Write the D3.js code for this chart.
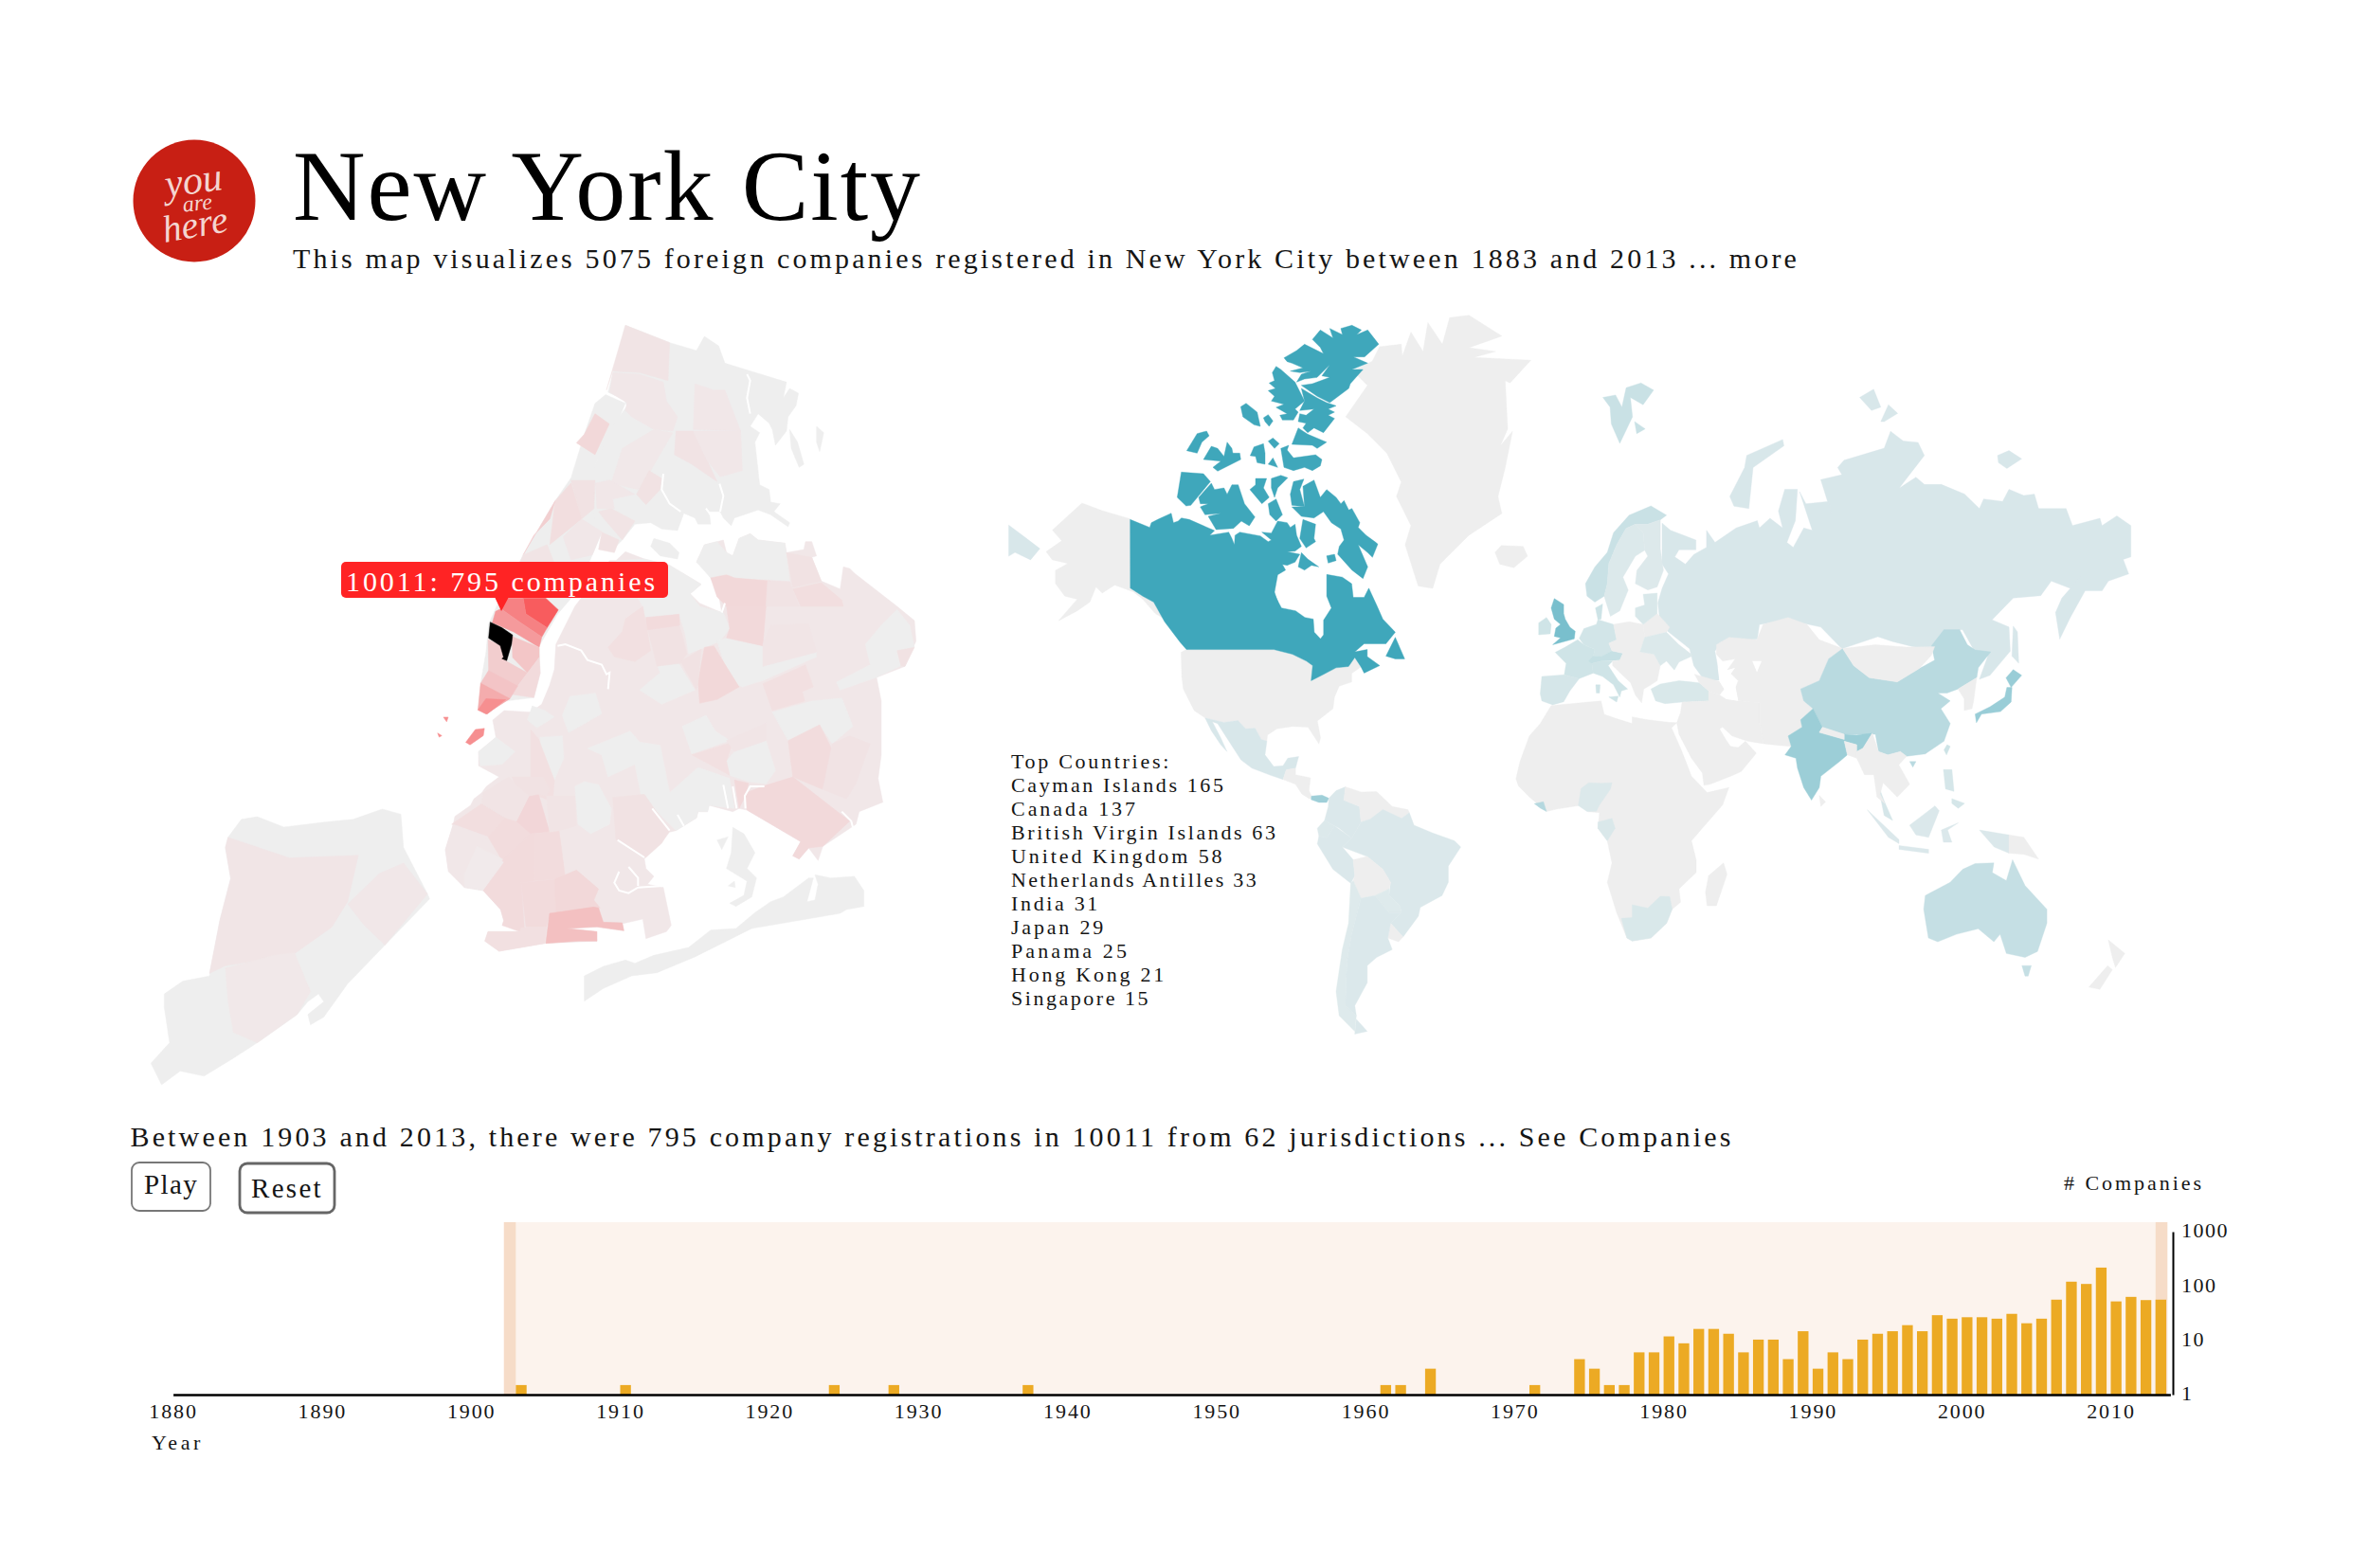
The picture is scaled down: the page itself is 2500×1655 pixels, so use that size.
<!DOCTYPE html>
<html><head><meta charset="utf-8"><style>html,body{margin:0;background:#fff}svg{display:block}text{font-family:"Liberation Serif",serif}</style>
<script src="https://cdn.jsdelivr.net/npm/d3@7"></script></head><body><script>
// ---------- timeline data ----------
const barYears=[1903,1910,1924,1928,1937,1961,1962,1964,1971,1974,1975,1976,1977,1978,1979,1980,1981,1982,1983,1984,1985,1986,1987,1988,1989,1990,1991,1992,1993,1994,1995,1996,1997,1998,1999,2000,2001,2002,2003,2004,2005,2006,2007,2008,2009,2010,2011,2012,2013];
const barValues=[1.5,1.5,1.5,1.5,1.5,1.5,1.5,3,1.5,4.5,3,1.5,1.5,6,6,11.8,8.8,16.2,16.2,13.2,6,10.3,10.3,4.5,14.7,3,6,4.5,10.3,13.2,14.7,19,14.7,29,25,26.6,26.6,25,30.7,20.6,25,56,120,109,218,52,63,55,56];
const xTicks=[1880,1890,1900,1910,1920,1930,1940,1950,1960,1970,1980,1990,2000,2010];
const yTicks=[1,10,100,1000];
const brushYears=[1902.2,2013.8];
// ---------- top list ----------
const topCountries=["Top Countries:","Cayman Islands 165","Canada 137","British Virgin Islands 63","United Kingdom 58","Netherlands Antilles 33","India 31","Japan 29","Panama 25","Hong Kong 21","Singapore 15"];
const topWidths=[169,226.5,134,281.6,225.5,261,94,100,125,164,147];
// ---------- world: companies per country (absent = none) ----------
const countryCounts={Canada:137,UK:58,India:27,Japan:29,Panama:25,China:10,Australia:5.5,Liberia:12,Russia:1,Mexico:1,Brazil:.6,Colombia:.6,Peru:.6,Ecuador:.5,Argentina:.6,Chile:.3,Paraguay:.3,Ireland:2.5,Germany:2,France:2.5,Spain:1.5,Italy:2.5,Alps:5,Norway:4,Sweden:.5,Finland:.4,Denmark:3,Baltics:.8,Ukraine:.5,Turkey:.8,Nigeria:.5,SouthAfrica:.8,Gabon:.7,Indonesia:.6,Malaysia:1.5,Philippines:1.5,Taiwan:3};
const worldShapes=[
["Chukotka-W",[[-180,68.9],[-175,67.5],[-170,66],[-173,64.5],[-178,65.5],[-180,65]],"Russia"],
["Alaska",[[-141,69.6],[-141,60.3],[-137,59],[-133.5,58],[-130,55],[-133,56],[-137,58.5],[-140,59.7],[-146,60.8],[-150,59.5],[-152,60.5],[-154,58],[-158,56.5],[-164,54.7],[-158,58.5],[-162,59],[-165,61],[-165,63],[-161,64],[-166,64.5],[-168,65.6],[-163,67],[-166,68.3],[-156.5,71.3],[-150,70.5]]],
["USA",[[-124.7,48.4],[-123,49],[-95,49],[-89,48],[-84.5,46.5],[-82.5,45.5],[-83,42],[-79,43.5],[-75,45],[-71,45.3],[-69,47.3],[-67,45.2],[-70,43.7],[-70,41.7],[-74,40.7],[-75.5,38],[-76,35],[-81,31.7],[-80,27],[-80.5,25.2],[-82.5,28],[-84,30],[-89,30.2],[-94,29.5],[-97,27.8],[-97.2,26],[-99,26.5],[-101,29.7],[-104,29.5],[-106.5,31.8],[-111,31.3],[-117,32.5],[-120.5,34.5],[-124,40],[-124.5,43]]],
["Mexico",[[-117,32.5],[-111,31.3],[-106.5,31.8],[-104,29.5],[-101,29.7],[-99,26.5],[-97.2,26],[-97.8,22],[-95,18.5],[-92,18.7],[-90.5,21],[-87,21.5],[-88,18],[-91,17.5],[-92,14.5],[-96,15.8],[-102,18],[-105.5,20.5],[-109,25.5],[-113,31],[-114.7,31.5],[-112,27],[-110,23],[-112,25],[-115,29]],"Mexico"],
["CentralAm",[[-92,14.5],[-91,17.5],[-88,18],[-88,16],[-83.2,15],[-83.7,11],[-82.7,9],[-83.5,8.4],[-86,10],[-88,13]]],
["Panama",[[-82.9,9.3],[-79.5,9.6],[-77.3,8.6],[-78,7.3],[-80.5,7.3],[-83,8.2]],"Panama"],
["Colombia",[[-77.3,8.6],[-75,11],[-72,12.2],[-72.5,8],[-67.5,6],[-67,1],[-70,-4.2],[-74,-1],[-78.7,1.5],[-77.5,6]],"Colombia"],
["Venezuela",[[-72,12.2],[-67,10.6],[-62,10.7],[-57,6],[-52,5],[-51.5,4],[-54,2.2],[-60,1.2],[-64,2],[-67,1],[-67.5,6],[-72.5,8]]],
["Ecuador",[[-78.7,1.5],[-75.5,-0.2],[-78,-4],[-80.5,-3.5],[-81,-1]],"Ecuador"],
["Peru",[[-80.5,-3.5],[-78,-4],[-75.5,-0.2],[-70,-4.2],[-73,-7],[-69.5,-11],[-69,-16],[-70.3,-18.3],[-76,-14],[-81,-6]],"Peru"],
["Brazil",[[-70,-4.2],[-67,1],[-64,2],[-60,5],[-54,2.2],[-51.5,4],[-50,0],[-44,-2.5],[-37,-5],[-35,-7],[-39,-13],[-39,-18],[-41,-22],[-48,-25.5],[-48.6,-28],[-53.5,-33.7],[-57.5,-30],[-54,-27],[-54.5,-25],[-58,-22],[-57.5,-18],[-60,-14],[-65,-10],[-73,-7]],"Brazil"],
["Bolivia",[[-69.5,-11],[-65,-10],[-60,-14],[-57.5,-18],[-58,-20],[-62.5,-22],[-67,-22.8],[-69.5,-17.5],[-69,-16]]],
["Paraguay",[[-58,-20],[-58,-22],[-54.5,-25],[-54,-27],[-58,-27],[-62.5,-22]],"Paraguay"],
["Uruguay",[[-57.5,-30],[-53.5,-33.7],[-55,-35],[-58.4,-34]]],
["Chile",[[-70.3,-18.3],[-69.5,-17.5],[-67,-22.8],[-70,-33],[-71.5,-40],[-72,-50],[-68.5,-52],[-69,-55],[-74,-52],[-75,-47],[-73,-37],[-71,-30]],"Chile"],
["Argentina",[[-67,-22.8],[-62.5,-22],[-58,-27],[-54,-27],[-57.5,-30],[-58.4,-34],[-57,-37],[-62,-39],[-65,-41],[-65,-45],[-69,-50],[-68.5,-52],[-72,-50],[-71.5,-40],[-70,-33]],"Argentina"],
["Fuego",[[-68.5,-52.7],[-65,-55],[-69,-55.5]],"Argentina"],
["Iceland",[[-24,65.5],[-22,66.4],[-15,66.3],[-13.6,65],[-18,63.4],[-22.5,63.9]]],
["Africa",[[-6,35.8],[10,37],[11,33.5],[15,32.3],[20,31],[20,32.8],[25,32],[32,31.3],[34.3,31.2],[32.6,29.8],[35.5,24],[37.2,20],[39,15.5],[43,11.5],[44,10.4],[51,12],[49,6.5],[42,-1.5],[39,-5],[40.5,-11],[40.5,-15],[35,-20],[35.5,-24],[32.8,-26],[31,-30],[26,-34],[20,-34.8],[18.3,-34],[15,-27],[12,-18],[13.5,-12],[12,-5],[9,-1],[9.5,4],[6,4.3],[3,6.3],[-4,5.2],[-7.5,4.4],[-13,9],[-16.5,12.5],[-17.3,14.7],[-16,20],[-13,27.5],[-9.5,31]]],
["SouthAfrica",[[16.5,-28.6],[20,-28.4],[20,-24.7],[25,-25.7],[29,-22.2],[32,-22.3],[32.8,-26],[31,-30],[26,-34],[20,-34.8],[18.3,-34]],"SouthAfrica"],
["Nigeria",[[2.7,6.3],[5.5,4.4],[8.5,4.5],[9.5,6.5],[13,11.5],[13.5,13.5],[10,13.3],[6,13.5],[3.6,11.7]],"Nigeria"],
["Liberia",[[-11.4,6.9],[-8.5,7.5],[-7.5,4.4],[-9.5,5.5]],"Liberia"],
["Gabon",[[9,1],[13.5,2.2],[14.5,-1],[12,-5],[9,-1]],"Gabon"],
["Madagascar",[[49.3,-12],[50.4,-15.5],[47,-25],[44,-25],[43.5,-21],[44.5,-16]]],
["Ireland",[[-10,52],[-10,54.3],[-7.5,55.3],[-6,54],[-6.3,52.2]],"Ireland"],
["UK",[[-5.5,50],[1.4,51.2],[1.7,52.7],[0,53.5],[-1.5,55],[-2,56],[-2,57.6],[-5,58.6],[-6,57],[-5,55],[-3,54],[-4.5,53.3],[-5,51.7],[-3,51.4]],"UK"],
["France",[[-1.8,43.4],[3,42.5],[7.5,43.8],[7,46],[8,49],[4.5,50],[2.5,51],[-1.5,49.5],[-4.7,48.4],[-1.2,46]],"France"],
["Iberia",[[-9,43],[-1.8,43.4],[3,42.5],[0,39.5],[-2,36.8],[-5.5,36],[-9,37],[-9.5,38.8]],"Spain"],
["Germany",[[3,51.3],[4.5,53.2],[8.5,54],[9,54.9],[14,54],[15,51],[12.5,50.3],[13.5,48.7],[10,47.5],[7.5,47.6],[8,49],[4.5,50]],"Germany"],
["Alps",[[6,46.5],[7.5,47.6],[10,47.5],[13.5,48.7],[17,48.2],[16,46.7],[10,46.5],[7,46]],"Alps"],
["Italy",[[7,46],[7.5,43.8],[10.5,43],[14,41],[16,38],[16.5,39.5],[18.5,40],[15.5,42],[12.3,45.5],[13.7,46.5],[10,46.5]],"Italy"],
["Sicily",[[12.5,38],[15.5,38.2],[15,36.7]],"Italy"],
["Sardinia",[[8.3,41],[9.7,41],[9.5,39],[8.5,39]],"Italy"],
["Norway",[[5,61],[5.5,59],[8,58],[11,59],[12,61],[12.5,64],[15,66.5],[18,68.5],[21,69],[25,69],[29,69.5],[31,70],[26,71],[19,70],[14,68],[12,65.5],[8,63.5]],"Norway"],
["Sweden",[[11,59],[13,55.5],[16,56.5],[18.7,60],[17,62],[21,65],[24,65.8],[23.5,68],[21,69],[18,68.5],[15,66.5],[12.5,64],[12,61]],"Sweden"],
["Finland",[[21,61],[25,60],[28,60.5],[30,63],[29,66],[29,69.5],[25,69],[21,69],[23.5,68],[24,65.8],[25,65],[21.5,63]],"Finland"],
["Denmark",[[8.2,57],[10.5,57.7],[10,55],[9,54.9]],"Denmark"],
["EastEurope",[[14,54],[19,54.5],[23.5,54],[24,51.5],[22.5,48.5],[27,48],[29,45.5],[28,42],[26,41],[23.7,40],[23,36.5],[21,38.5],[19.5,41.5],[13.7,45.5],[13.7,46.5],[16,46.7],[17,48.2],[13.5,48.7],[12.5,50.3],[15,51]]],
["Belarus",[[23.5,54],[28,56],[32,53.5],[31,52.5],[24,51.5]]],
["Baltics",[[21,55.5],[21,57],[24,57.5],[23.5,59.3],[28,59.5],[28,56],[23.5,54]],"Baltics"],
["Ukraine",[[22.5,48.5],[24,51.5],[31,52.5],[35,50],[39.5,47.7],[35,46.3],[33.5,44.5],[31,46.5],[29,45.5],[27,48]],"Ukraine"],
["Turkey",[[26,40],[29,41.2],[35,42],[41.5,41.5],[44.5,39.5],[44.5,37],[36,36.7],[30.5,36.3],[27.5,37]],"Turkey"],
["Caucasus",[[40,43.5],[48,41.8],[49.5,40],[48,38.5],[44.5,39.5],[41.5,41.5]]],
["MiddleEast",[[36,36.7],[44.5,37],[44.5,39.5],[48,38.5],[50,37.5],[54,37],[61,36.5],[61,31],[62,25.3],[57,26],[52,27.5],[49,30],[48,29.5],[50,26.5],[51.5,24.5],[54,24.2],[56.3,26],[59.8,22.5],[55,17],[52,15.7],[45,13],[43,12.7],[42.5,16.5],[39,21],[35,28],[34.3,31.2],[35.5,34]]],
["CentralAsia",[[47,50],[51,51.5],[60,51],[62,54],[70,55.3],[76,54],[80,51],[87.5,49.2],[83,47],[80,42],[74,40],[75,37],[78,35],[74,32],[74.5,30],[70,27.5],[71,24.5],[67,24.8],[62,25.3],[61,31],[61,36.5],[54,37],[53,40],[54,42],[50.5,44.5],[53,47],[49,46.5],[47,48]]],
["China",[[74,40],[80,42],[83,47],[87.5,49.2],[91,45.5],[96,42.7],[105,41.7],[112,44.8],[117,46.7],[116,49.8],[120,53],[125,53],[127.5,50],[130,48.9],[135,48.5],[131,45],[130.5,42.7],[124.5,40],[121,39],[118,39],[122,37],[119,35],[122,31],[120,26],[114,22.3],[108,21.6],[106,23],[102,22],[99,23],[98,28],[92,28],[88,28],[81,30],[78,35],[75,37]],"China"],
["Hainan",[[109,20],[111,20],[110,18.3]],"China"],
["Mongolia",[[87.5,49.2],[98,50],[108,49.5],[117,49.6],[116,47.8],[112,44.8],[105,41.7],[96,42.7],[91,45.5]]],
["India",[[78,35],[81,30],[80,28.5],[88,26.5],[88,28],[92,27.8],[97,28.3],[94,24],[92,23],[92,25],[88,26],[89,22],[86.5,20],[80.5,15.5],[80,12],[77.5,8],[75,12],[73,18],[72.5,21],[69,22],[71,24.5],[70,27.5],[74.5,30],[74,32]],"India"],
["Nepal",[[80,28.5],[81,30],[88,28],[88,26.5]]],
["Bangladesh",[[88,26],[92,25],[92,21],[89,22]]],
["SEAsia",[[92,23],[94,24],[97,28.3],[99,23],[102,22],[106,23],[108,21.6],[105.5,19],[109,13],[105,9],[103,11],[100.5,13.5],[99.5,10],[101,7],[98.5,9],[97.5,16],[94.5,16],[92,21]]],
["Korea",[[124.5,40],[130.5,42.7],[129.5,37],[129,35],[126.5,34.5],[126.5,37.5]]],
["Taiwan",[[121,25],[122,24.5],[120.8,22],[120,23.5]],"Taiwan"],
["SriLanka",[[80,9.5],[82,7.5],[80.5,6]]],
["Australia",[[114,-22],[122,-18],[126,-14],[130,-12.2],[136,-12],[135.5,-15],[140,-17.5],[142,-11],[146,-19],[153,-26],[153,-30],[150,-37.5],[146,-39],[140,-38],[138,-33],[136,-35],[131,-31.5],[124,-33],[118,-35],[115,-34],[113.5,-26]],"Australia"],
["Tasmania",[[145,-41],[148,-41],[147,-43.5],[146,-43.5]],"Australia"],
["NZNorth",[[172.7,-34.5],[178,-38],[175,-41.5],[174,-39]]],
["NZSouth",[[172.5,-41],[174,-42],[170,-46.5],[166.5,-46]]],
["Newfoundland",[[-59,47.6],[-56,51.5],[-53,47],[-56,47]],"Canada"]
];
const inlandSeas=[[[47.5,45],[50.5,44.5],[53,45],[51,43],[53,41],[54,37],[50,37.5],[49.5,40],[48,41.8]],[[58.5,46.5],[61.5,46.5],[60,44]]];
// Eurasian survey sheet (sheet units): [count key, outline]
const eurasiaSheet=[
["Russia",[[345,455],[365,470],[425,490],[425,510],[385,510],[375,525],[400,540],[420,520],[450,505],[450,470],[470,495],[520,465],[570,450],[575,465],[600,445],[630,465],[620,430],[635,385],[665,385],[660,450],[640,495],[655,505],[680,465],[700,470],[670,390],[685,415],[740,410],[745,435],[720,365],[770,355],[760,340],[775,325],[870,300],[885,265],[915,285],[950,288],[965,315],[905,383],[945,360],[965,375],[1005,375],[1060,395],[1095,425],[1105,405],[1150,410],[1165,385],[1200,398],[1225,395],[1235,425],[1300,425],[1315,460],[1380,445],[1385,460],[1420,440],[1453,460],[1453,525],[1435,530],[1448,560],[1400,575],[1385,595],[1345,595],[1310,650],[1285,695],[1275,640],[1290,610],[1335,565],[1310,590],[1265,575],[1240,605],[1175,610],[1125,655],[1165,670],[1168,720],[1120,770],[1095,778],[1115,730],[1090,730],[1055,675],[1020,680],[985,718],[935,710],[890,700],[855,690],[770,715],[720,670],[640,655],[575,665],[570,695],[485,700],[470,720],[475,745],[480,780],[445,780],[420,750],[410,715],[360,680],[340,660],[335,620],[345,590],[360,560],[345,540],[345,510]]],
["Russia",[[505,400],[540,340],[545,315],[630,282],[633,295],[560,340],[550,425],[515,420]]],
["Russia",[[812,195],[845,178],[862,215],[840,222]]],["Russia",[[880,210],[902,228],[870,245],[862,245]]],
["Russia",[[1138,315],[1165,305],[1195,322],[1160,342],[1140,330]]],
["Russia",[[1175,668],[1185,680],[1188,745],[1172,730]]],
["Norway",[[205,195],[235,190],[250,215],[260,175],[295,165],[325,180],[300,210],[270,195],[275,235],[245,290],[225,250],[222,215]]],
["Norway",[[280,245],[305,260],[285,270]]],
["Japan",[[1085,850],[1120,835],[1155,815],[1160,795],[1172,795],[1170,825],[1145,845],[1100,850],[1088,868]]],
["Japan",[[1158,775],[1175,758],[1195,770],[1170,795]]],
["Indonesia",[[830,1048],[905,1110],[905,1118],[880,1105]]],
["Indonesia",[[905,1122],[975,1130],[975,1138],[905,1130]]],
["Indonesia",[[930,1080],[990,1040],[1000,1050],[975,1105],[945,1100]]],
["Indonesia",[[1005,1090],[1045,1075],[1020,1090],[1030,1115],[1010,1115]]],
["Indonesia",[[1095,1090],[1165,1100],[1165,1138],[1130,1125]]],
[null,[[1165,1100],[1200,1105],[1235,1150],[1200,1140],[1165,1138]]],
["Malaysia",[[855,995],[870,1030],[890,1070],[870,1060]]],
["Philippines",[[1010,965],[1030,965],[1035,1010],[1015,1005]]],
["Philippines",[[1030,1025],[1060,1035],[1045,1045],[1030,1035]]]
];
// Canada south of the Arctic coast, in degrees (joined to the traced Arctic coast below)
const canadaSouth=[[-94.5,59],[-92.5,57],[-88,56.5],[-85,55.3],[-82.3,55],[-82,52.5],[-80,51.2],[-79,52],[-79,54.8],[-76.5,57],[-78,59],[-78,62.4],[-73,62],[-70,61],[-69.5,58.8],[-66,58.8],[-64.5,60.3],[-62,57.5],[-60,55],[-56,52.5],[-59,50.2],[-66,50.2],[-69,48.5],[-65,49],[-65,47.5],[-61,45.5],[-66,43.8],[-67,45.2],[-69,47.3],[-71,45.3],[-75,45],[-79,43.5],[-83,42],[-82.5,45.5],[-84.5,46.5],[-89,48],[-95,49],[-123,49],[-125,50.5],[-130,54.5],[-133.5,58],[-137,59],[-141,60.3]];
// Arctic survey sheet (sheet units)
const canadaArcticCoast=[[-112,640],[-50,665],[-45,650],[-25,640],[18,620],[25,650],[40,645],[50,635],[75,640],[155,675],[140,690],[200,680],[210,700],[218,720],[220,690],[235,680],[300,692],[325,710],[335,705],[305,680],[335,683],[355,645],[385,650],[395,665],[410,655],[415,690],[430,725],[410,740],[385,742],[425,750],[410,775],[385,785],[370,782],[380,800],[355,815],[345,870],[355,900]];
const canadaIslands=[
[[375,128],[415,105],[440,85],[500,115],[490,95],[465,70],[490,40],[530,65],[520,35],[560,55],[555,35],[590,25],[620,40],[605,55],[640,40],[675,85],[630,125],[595,125],[640,145],[590,165],[625,165],[585,210],[580,225],[520,270],[480,250],[430,215],[465,210],[520,190],[495,185],[520,150],[480,190],[440,195],[415,205],[430,180],[460,170],[425,175],[395,170],[435,160],[400,145],[385,140]],
[[350,155],[365,165],[410,205],[440,265],[410,290],[420,300],[405,325],[370,325],[362,310],[385,305],[350,285],[375,275],[335,265],[345,250],[325,232],[348,225],[328,208],[345,200],[338,175]],
[[430,225],[480,255],[510,270],[540,280],[515,290],[535,300],[515,310],[535,320],[500,365],[470,350],[450,365],[435,350],[445,335],[420,330],[425,305],[445,310],[470,290],[425,295],[440,265]],
[[400,402],[420,350],[450,370],[510,395],[480,415],[465,405]],
[[365,415],[390,405],[385,420],[405,445],[475,435],[495,450],[490,470],[465,485],[440,475],[405,485],[375,475]],
[[325,392],[340,382],[360,400],[345,415]],[[340,445],[355,475],[325,465]],
[[238,283],[255,272],[290,300],[300,345],[280,340],[245,315]],[[310,318],[325,308],[340,328],[328,345],[315,330]],
[[67,422],[100,368],[130,360],[138,375],[115,395],[100,430]],
[[120,450],[145,408],[165,415],[185,440],[195,395],[210,415],[213,430],[235,430],[238,450],[165,487],[150,475],[175,455]],
[[268,438],[280,410],[310,400],[315,430],[315,465],[290,460],[285,440]],
[[50,490],[120,495],[142,520],[80,595],[65,597],[37,570]],
[[105,570],[145,525],[155,545],[185,540],[195,560],[210,530],[230,530],[250,590],[283,632],[265,660],[240,645],[215,668],[160,672],[135,630],[175,620],[125,625],[110,600],[135,590],[110,590]],
[[267,545],[285,530],[285,510],[320,510],[310,540],[328,570],[305,590]],
[[335,510],[365,500],[387,508],[355,540],[345,570],[335,540]],
[[325,590],[350,575],[370,625],[350,645],[330,625]],
[[395,560],[405,520],[438,512],[425,545],[440,600],[400,595]],
[[435,535],[470,515],[490,570],[510,545],[540,570],[555,590],[565,580],[580,610],[590,605],[615,650],[610,665],[635,690],[665,712],[672,718],[655,760],[640,745],[610,720],[640,790],[625,827],[590,800],[545,750],[550,725],[565,705],[555,670],[525,650],[500,615],[470,635],[430,630],[400,600],[440,600]],
[[435,640],[475,655],[470,700],[475,710],[445,730],[425,700]],
[[430,745],[450,765],[485,790],[462,785],[440,800],[420,790]],
[[510,755],[535,750],[540,770],[515,778]]
];
const greenlandOutline=[[815,90],[860,85],[862,110],[880,60],[905,100],[915,40],[945,85],[960,30],[1000,25],[1068,68],[1000,92],[1055,100],[1010,112],[1128,118],[1085,165],[1075,160],[1080,260],[1065,295],[1090,265],[1075,340],[1060,400],[1068,435],[1000,480],[940,540],[925,590],[895,585],[868,500],[880,460],[850,400],[860,370],[830,310],[790,270],[745,235],[790,170],[760,140],[800,120]];

// ---------- NYC survey grid A: Manhattan + Staten Island, with company counts ----------
const manhattanLand=[[925,178],[962,195],[940,250],[905,315],[903,400],[918,445],[900,490],[868,565],[835,605],[800,668],[802,720],[790,768],[735,775],[702,800],[685,792],[690,740],[700,680],[705,625],[720,590],[770,490],[830,385],[860,340],[885,255],[905,195]];
const statenLand=[[70,1480],[105,1440],[95,1370],[95,1345],[130,1320],[180,1310],[200,1200],[220,1120],[210,1060],[215,1040],[240,1005],[270,1000],[320,1020],[400,1010],[450,1005],[505,985],[540,995],[545,1060],[590,1150],[594,1160],[510,1250],[440,1325],[395,1390],[370,1405],[365,1385],[395,1360],[385,1345],[365,1360],[345,1385],[270,1440],[225,1470],[170,1505],[125,1495],[90,1522]];
const statenZips=[
[2.5,[[215,1040],[330,1080],[460,1075],[440,1165],[410,1215],[335,1270],[210,1290],[180,1305],[200,1200],[220,1120],[210,1060]]],
[1.5,[[210,1295],[300,1270],[340,1265],[370,1340],[345,1385],[270,1440],[225,1420],[215,1360]]],
[2,[[545,1090],[590,1150],[510,1250],[470,1210],[440,1170],[500,1110]]]
];
const manhattanZips=[
[10,[[885,255],[905,215],[932,235],[905,295],[870,272]]],
[4,[[860,345],[905,345],[903,400],[880,420]]],
[6,[[830,385],[860,350],[880,420],[820,470]]],
[18,[[830,385],[820,420],[790,452],[770,490]]],
[3,[[770,490],[815,470],[830,510],[810,574],[735,574]]],
[2,[[880,420],[918,445],[900,490],[860,500],[845,455]]],
[320,[[770,574],[812,574],[836,597],[815,632],[775,605]]],
[180,[[735,574],[770,574],[775,605],[815,632],[805,650],[765,622],[728,595]]],
[110,[[718,600],[728,595],[765,622],[805,650],[800,670],[752,640],[712,622]]],
[28,[[749,649],[800,670],[800,690],[778,720],[750,690]]],
[20,[[704,655],[728,667],[738,697],[778,720],[760,745],[705,715]]],
[8,[[800,690],[802,720],[790,768],[750,762],[760,745],[778,720]]],
[30,[[705,715],[760,745],[745,770],[735,775],[690,740]]],
[70,[[690,740],[745,770],[700,800],[685,792]]],
[140,[[700,770],[737,772],[702,800],[685,792]]],
[140,[[662,855],[680,830],[697,828],[695,842],[670,860]]],
[140,[[620,806],[629,806],[626,815]]],
[140,[[609,837],[617,842],[612,845]]]
];
const selectedZip=[[708,621],[705,652],[727,667],[733,689],[730,692],[739,696],[748,664],[750,646],[730,632]];

// ---------- NYC survey grid B: Bronx, Queens, Brooklyn, Rockaways ----------
const bronxLand=[[300,-890],[440,-835],[525,-810],[550,-855],[595,-825],[615,-770],[680,-750],[810,-710],[800,-660],[820,-690],[848,-675],[840,-635],[815,-600],[810,-555],[775,-510],[765,-560],[755,-580],[720,-610],[695,-570],[725,-550],[710,-520],[720,-430],[725,-385],[755,-370],[760,-330],[790,-325],[770,-300],[820,-265],[815,-252],[760,-290],[720,-305],[645,-280],[635,-255],[610,-280],[600,-300],[565,-300],[570,-260],[530,-260],[520,-280],[485,-295],[465,-240],[415,-245],[380,-265],[330,-260],[290,-210],[255,-175],[225,-235],[200,-280],[200,-440],[260,-570],[305,-635],[295,-655],[245,-678]];
const grayIslands=[
[[820,-560],[845,-520],[865,-450],[850,-440],[825,-500]],[[905,-570],[928,-550],[915,-490],[905,-520]],
[[390,-215],[440,-200],[470,-170],[465,-150],[410,-160],[380,-190]],
[[590,740],[625,730],[605,770]],[[625,885],[645,870],[648,890]],
[[640,700],[675,720],[710,780],[685,830],[715,860],[700,920],[650,950],[630,940],[675,915],[685,870],[620,830],[635,780]],
[[170,1250],[170,1170],[230,1140],[300,1120],[330,1130],[390,1105],[500,1080],[570,1025],[650,1020],[710,970],[760,935],[800,920],[880,860],[895,860],[875,935],[900,930],[910,880],[900,850],[950,860],[1025,855],[1055,900],[1055,950],[1000,960],[980,972],[700,1020],[520,1110],[400,1160],[320,1170],[230,1210]]
];
const queensBrooklynLand=[[140,0],[250,-145],[270,-145],[300,-173],[360,-150],[440,-130],[540,-70],[505,-40],[535,-10],[605,20],[595,-40],[570,-90],[550,-120],[525,-140],[550,-195],[590,-205],[610,-210],[620,-170],[640,-160],[660,-215],[695,-230],[720,-210],[805,-200],[810,-170],[865,-180],[870,-205],[890,-205],[905,-160],[890,-155],[920,-80],[980,-55],[990,-125],[1010,-120],[1025,-105],[1160,0],[1215,45],[1220,110],[1185,190],[1095,225],[1110,300],[1110,470],[1100,545],[1115,620],[1040,650],[1030,690],[1015,700],[925,760],[910,805],[880,765],[850,800],[830,790],[855,745],[685,645],[660,640],[640,650],[565,630],[560,650],[530,650],[525,670],[460,710],[440,715],[415,745],[390,760],[360,800],[365,830],[390,855],[370,880],[420,890],[445,1010],[430,1030],[365,1052],[355,990],[290,1005],[295,1027],[210,1015],[115,1020],[205,1030],[210,1060],[45,1067],[-100,1092],[-145,1060],[-135,1030],[-35,1030],[-30,1020],[-90,1010],[-85,995],[-95,960],[-150,900],[-210,890],[-260,840],[-270,770],[-245,690],[-240,665],[-190,630],[-180,610],[-155,590],[-140,570],[-100,540],[-165,505],[-165,460],[-110,415],[-120,360],[-84,330],[0,335],[35,310],[60,250],[75,200],[80,120]];
const queensBrooklynCount=2;
const grayZips=[
[[525,-140],[550,-195],[590,-205],[620,-170],[640,-160],[660,-215],[695,-230],[720,-210],[805,-200],[820,-80],[760,-85],[650,-90],[625,-100],[570,-90]],
[[270,-145],[360,-150],[440,-130],[540,-70],[505,-40],[535,0],[610,20],[630,70],[600,110],[500,150],[490,90],[470,25],[360,35],[355,0]],
[[590,110],[620,100],[735,125],[735,190],[905,145],[905,160],[735,235],[670,255],[640,240],[610,170]],
[[1060,120],[1110,60],[1160,10],[1200,60],[1215,130],[1160,140],[1172,188],[1095,225],[980,265],[968,240],[1075,185]],
[[345,265],[410,210],[402,190],[465,175],[520,265],[415,310]],
[[100,345],[125,285],[205,275],[225,340],[120,400]],
[[765,335],[890,300],[985,290],[1020,380],[955,435],[915,375],[815,425]],
[[480,380],[555,345],[585,395],[630,425],[510,467]],
[[620,490],[645,460],[745,425],[775,520],[745,562],[690,555],[630,535]],
[[180,450],[315,395],[345,430],[410,440],[440,590],[530,510],[630,545],[645,640],[565,630],[560,650],[530,650],[525,670],[460,710],[390,640],[350,600],[330,500],[245,540],[225,470]],
[[30,415],[100,410],[105,480],[75,550],[35,480]],
[[140,570],[170,555],[215,565],[255,640],[250,690],[190,720],[150,690]],
[[-165,460],[-110,415],[-50,460],[-90,500],[-160,505]],
[[5,315],[45,330],[75,350],[20,385],[-10,360]]
];
const bronxZips=[
[3,[[300,-890],[440,-835],[435,-715],[345,-740],[260,-745],[240,-685]]],
[2,[[260,-740],[345,-735],[420,-710],[430,-650],[465,-600],[450,-555],[390,-560],[320,-600],[300,-620],[305,-645],[250,-678]]],
[2,[[520,-705],[580,-685],[615,-685],[665,-555],[515,-560]]],
[3.5,[[460,-555],[515,-555],[560,-460],[590,-395],[510,-450],[455,-480]]],
[2,[[515,-555],[665,-555],[670,-430],[600,-410],[560,-460]]],
[1.5,[[290,-500],[390,-560],[450,-550],[380,-430],[340,-370],[255,-390]]],
[4,[[375,-430],[415,-405],[410,-370],[365,-322],[335,-355]]],
[2,[[205,-390],[250,-400],[330,-355],[260,-340],[265,-310],[210,-310]]],
[3,[[215,-300],[255,-310],[330,-270],[290,-210],[230,-280]]],
[4,[[225,-235],[280,-210],[265,-170],[215,-180]]]
];
const queensZips=[
[4,[[1160,140],[1215,130],[1185,190],[1172,188]]],
[10,[[570,-90],[620,-100],[645,-90],[760,-80],[745,0],[620,0],[590,-30]]],
[4,[[810,-170],[890,-155],[920,-80],[830,-60]]],
[6,[[830,-55],[920,-75],[985,-20],[990,0],[855,0]]],
[3.5,[[750,-80],[820,-78],[850,0],[745,0]]],
[9,[[620,0],[745,0],[735,125],[620,100],[630,70]]],
[10,[[530,240],[550,130],[580,125],[610,175],[660,255],[590,295],[535,307]]],
[5,[[735,245],[870,185],[895,255],[860,270],[868,300],[765,330]]],
[7,[[815,425],[915,375],[960,465],[925,580],[830,540]]],
[3.5,[[925,580],[955,435],[1010,410],[1075,435],[1030,560],[1000,610]]],
[9,[[680,590],[750,565],[830,540],[1010,680],[925,760],[880,765],[850,800],[830,790],[855,745],[685,645]]],
[9,[[645,550],[690,560],[680,600],[660,640]]],
[4,[[365,50],[470,60],[480,90],[495,150],[475,180],[400,190],[385,130]]],
[8,[[365,35],[470,25],[472,60],[368,75]]],
[5,[[245,130],[290,80],[300,40],[355,0],[370,80],[380,140],[330,175],[265,160]]],
[4,[[475,175],[540,135],[530,240],[525,265]]],
[5,[[510,470],[640,430],[620,490],[630,535]]],
[2.5,[[735,120],[760,60],[880,55],[905,145],[735,190]]],
[2.5,[[620,425],[745,370],[745,425],[645,460]]]
];
const brooklynZips=[
[5,[[0,390],[25,420],[75,550],[70,620],[0,590]]],
[6,[[-250,690],[-155,625],[-80,670],[-135,730]]],
[7,[[-80,670],[-60,660],[0,720],[-90,805],[-135,730]]],
[11,[[-45,680],[-5,600],[25,595],[60,715],[0,720]]],
[3,[[-155,625],[-150,590],[-70,540],[-50,560],[-5,600],[-45,680],[-80,670]]],
[2,[[-270,770],[-245,690],[-135,730],[-170,760],[-210,850],[-260,840]]],
[1,[[-210,850],[-170,760],[-80,805],[-150,900],[-210,890]]],
[8,[[-150,900],[-80,805],[-30,875],[-20,1020],[-35,1030],[-90,1010],[-85,995],[-95,960]]],
[8,[[-90,805],[0,720],[15,720],[10,870],[-30,875]]],
[7,[[15,720],[90,710],[110,860],[10,870]]],
[8,[[-30,875],[75,865],[80,970],[60,975],[50,1015],[-15,1015]]],
[10,[[75,865],[145,835],[215,895],[200,930],[220,955],[80,970]]],
[36,[[60,972],[200,952],[215,955],[230,1000],[290,1002],[295,1027],[210,1015],[115,1020],[210,1030],[210,1060],[150,1060],[48,1067]]],
[5,[[-145,1060],[-135,1030],[-35,1030],[-30,1018],[50,1015],[45,1067],[-100,1092]]],
[3,[[50,600],[140,600],[145,695],[90,710],[60,715]]],
[4,[[260,605],[360,595],[440,710],[415,750],[365,795],[270,740]]],
[4,[[-60,540],[40,540],[60,580],[50,600],[25,595],[-5,600],[-50,560]]]
];
const creeks=[
[[85,125],[110,120],[160,140],[180,170],[225,185],[240,215],[250,210],[245,262]],
[[275,740],[360,795]],[[310,825],[340,860],[340,885]],[[280,840],[265,875],[280,900],[310,908],[340,890],[420,885]],
[[385,640],[440,710]],[[465,660],[485,695]],[[610,565],[625,640]],[[640,570],[652,640]],
[[680,640],[678,600],[695,570],[740,570]],[[985,650],[1015,680],[1020,700]],
[[605,20],[615,-10]],
[[685,-735],[695,-715],[685,-660],[695,-610]],[[420,-420],[415,-370],[440,-325],[475,-300]],[[598,-388],[610,-350],[600,-300]],[[555,-310],[570,-290]]
];

// ---------- page ----------
const svg=d3.select("body").append("svg").attr("width",2500).attr("height",1655);
function fit(sel,w){const n=sel.text().length;const l=sel.node().getComputedTextLength();sel.style("letter-spacing",((w-l)/n)+"px");return sel;}
function label(x,y,size,txt,w,fill="#151515"){const t=svg.append("text").attr("x",x).attr("y",y).attr("font-size",size).attr("fill",fill).text(txt);return w?fit(t,w):t;}

// logo
svg.append("circle").attr("cx",205).attr("cy",212).attr("r",64.5).attr("fill","#c81f14");
[["you",206,204,42,-8],["are",209,222,24,-6],["here",208,250,40,-10]].forEach(([t,x,y,s,r])=>{
 svg.append("text").attr("transform",`translate(${x},${y}) rotate(${r})`).attr("text-anchor","middle").attr("font-size",s).attr("font-style","italic").attr("fill","#f4d5d0").text(t);});

label(309,232,106,"New York City",664,"#000");
label(309,283,30,"This map visualizes 5075 foreign companies registered in New York City between 1883 and 2013 ... more",1590);
label(137.5,1210,30,"Between 1903 and 2013, there were 795 company registrations in 10011 from 62 jurisdictions ... See Companies",1692);

// NYC map
const ax=d3.scaleLinear().domain([0,1568]).range([120,1000]), ay=d3.scaleLinear().domain([0,1568]).range([320,1170]);
const bx=d3.scaleLinear().domain([0,1260]).range([560,980]), by=d3.scaleLinear().domain([0,900]).range([640,940]);
const aLine=d3.line().x(d=>ax(d[0])).y(d=>ay(d[1])), bLine=d3.line().x(d=>bx(d[0])).y(d=>by(d[1]));
const nyColor=d3.scaleSqrt().domain([1,400]).range(["#f1eaeb","#f94a4c"]).clamp(true);
const nyc=svg.append("g");
const fillPath=(d,fill)=>nyc.append("path").attr("d",d+"Z").attr("fill",fill).attr("stroke",fill).attr("stroke-width",.5);
const GRAY="#eeeeee";
fillPath(aLine(manhattanLand),GRAY); fillPath(aLine(statenLand),GRAY);
fillPath(bLine(bronxLand),GRAY);
grayIslands.forEach(p=>fillPath(bLine(p),GRAY));
fillPath(bLine(queensBrooklynLand),nyColor(queensBrooklynCount));
grayZips.forEach(p=>fillPath(bLine(p),GRAY));
[bronxZips,queensZips,brooklynZips].forEach(a=>a.forEach(([v,p])=>fillPath(bLine(p),nyColor(v))));
[statenZips,manhattanZips].forEach(a=>a.forEach(([v,p])=>fillPath(aLine(p),nyColor(v))));
fillPath(aLine(selectedZip),"#000");
creeks.forEach(p=>nyc.append("path").attr("d",bLine(p)).attr("fill","none").attr("stroke","#fff").attr("stroke-width",2));
// tooltip
svg.append("rect").attr("x",360).attr("y",593).attr("width",345).attr("height",38).attr("rx",5).attr("fill","#ff2324");
svg.append("path").attr("d","M522,630L537,630L529,645Z").attr("fill","#ff2324");
label(365,623.5,30,"10011: 795 companies",329,"#fff");

// world map
const proj=d3.geoMercator().scale(188.5).translate([1656.7,871]);
const wline=d3.line().x(d=>proj(d)[0]).y(d=>proj(d)[1]);
const wColor=d3.scaleSqrt().domain([0,137]).range(["#e6edee","#3fa7bb"]);
const dx=d3.scaleLinear().domain([0,750]).range([1230,1480]), dy=d3.scaleLinear().domain([0,900]).range([335,635]);
const ex=d3.scaleLinear().domain([0,1568]).range([1040,1840]), ey=d3.scaleLinear().domain([0,1568]).range([320,1120]);
const fx=d3.scaleLinear().domain([0,1568]).range([1600,2300]), fy=d3.scaleLinear().domain([0,1568]).range([320,1120]);
const fromD=p=>proj.invert([dx(p[0]),dy(p[1])]), fromE=p=>proj.invert([ex(p[0]),ey(p[1])]), fromF=p=>proj.invert([fx(p[0]),fy(p[1])]);
const world=svg.append("g");
const drawCountry=(pts,c)=>world.append("path").attr("d",wline(pts)+"Z").attr("fill",c).attr("stroke",c).attr("stroke-width",.4);
drawCountry(greenlandOutline.map(fromE),GRAY);
eurasiaSheet.forEach(([key,p])=>drawCountry(p.map(fromF),key?wColor(countryCounts[key]):GRAY));
worldShapes.forEach(([name,pts,key])=>drawCountry(pts,key?wColor(countryCounts[key]):GRAY));
drawCountry(canadaArcticCoast.map(fromD).concat(canadaSouth),wColor(countryCounts.Canada));
canadaIslands.forEach(p=>drawCountry(p.map(fromD),wColor(countryCounts.Canada)));
inlandSeas.forEach(p=>world.append("path").attr("d",wline(p)+"Z").attr("fill","#fff"));
topCountries.forEach((t,i)=>label(1067,811+i*25,22,t,topWidths[i]));

// buttons
svg.append("rect").attr("x",139).attr("y",1227).attr("width",83).attr("height",51).attr("rx",8).attr("fill","#fff").attr("stroke","#777").attr("stroke-width",1.8);
svg.append("rect").attr("x",253).attr("y",1228).attr("width",100).attr("height",52).attr("rx",8).attr("fill","#fff").attr("stroke","#666").attr("stroke-width",2.8);
label(152,1260,29,"Play",57);
label(265,1264,29,"Reset",76);
label(2178,1256,22,"# Companies",148);

// timeline
const x=d3.scaleLinear().domain([1880,2014]).range([182.6,2290.4]);
const y=d3.scaleLog().domain([1,1000]).range([1472,1300]);
const g=svg.append("g");
g.append("rect").attr("x",x(brushYears[0])).attr("y",1290).attr("width",x(brushYears[1])-x(brushYears[0])).attr("height",182).attr("fill","#fcf3ed");
brushYears.forEach((b,i)=>g.append("rect").attr("x",i?x(b)-12.5:x(b)).attr("y",1290).attr("width",12.5).attr("height",182).attr("fill","#f6dcc8"));
g.selectAll(".bar").data(barYears).join("rect").attr("class","bar")
 .attr("x",d=>x(d)).attr("width",x(1880.72)-x(1880))
 .attr("y",(d,i)=>y(barValues[i])).attr("height",(d,i)=>y(1)-y(barValues[i])).attr("fill","#ecaa24");
const xAxis=g.append("g").attr("transform","translate(0,1472)").call(d3.axisBottom(x).tickValues(xTicks).tickSize(0).tickFormat(d3.format("d")));
xAxis.select(".domain").attr("stroke","#000").attr("stroke-width",2.5);
xAxis.selectAll("text").attr("y",25).attr("dy",0).attr("font-size",22).attr("font-family","Liberation Serif").attr("fill","#151515").style("letter-spacing","1.9px");
const yAxis=g.append("g").attr("transform","translate(2293,0)").call(d3.axisRight(y).tickValues(yTicks).tickSize(0).tickFormat(d3.format("d")));
yAxis.select(".domain").attr("stroke","#000").attr("stroke-width",2);
yAxis.selectAll("text").attr("x",9).attr("dy",".27em").attr("font-size",22).attr("font-family","Liberation Serif").attr("fill","#151515").style("letter-spacing","1.5px");
label(160,1530,22,"Year",55);
</script></body></html>
